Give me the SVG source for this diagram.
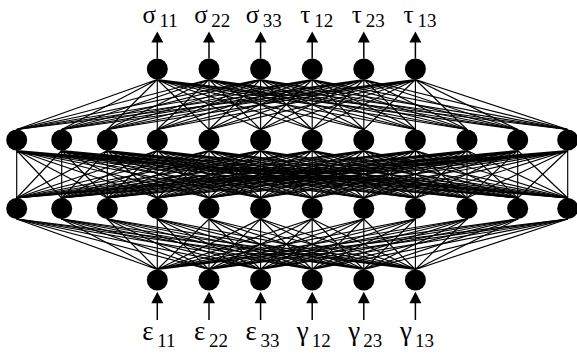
<svg xmlns="http://www.w3.org/2000/svg" width="577" height="354" viewBox="0 0 577 354">
<style>
.c{fill:none;stroke:#000;stroke-width:1.15;stroke-linejoin:round}
.n{fill:#000}
.ar{stroke:#000;stroke-width:1.5}
.lab{font-family:"Liberation Serif","Times New Roman",serif;font-size:25px;fill:#000}
.lb{font-size:27px}
.sub{font-size:19px}
</style>
<g id="connectors">
<path class="c" d="M16.7 129.5L157.3 79.5 61.7 129.5 157.3 79.5 107.3 129.5 157.3 79.5 157.3 129.5 157.3 79.5 209 129.5 157.3 79.5 260.6 129.5 157.3 79.5 312.2 129.5 157.3 79.5 363.8 129.5 157.3 79.5 415.4 129.5 157.3 79.5 467 129.5 157.3 79.5 517.7 129.5 157.3 79.5 567.7 129.5"/>
<path class="c" d="M16.7 129.5L209 79.5 61.7 129.5 209 79.5 107.3 129.5 209 79.5 157.3 129.5 209 79.5 209 129.5 209 79.5 260.6 129.5 209 79.5 312.2 129.5 209 79.5 363.8 129.5 209 79.5 415.4 129.5 209 79.5 467 129.5 209 79.5 517.7 129.5 209 79.5 567.7 129.5"/>
<path class="c" d="M16.7 129.5L260.6 79.5 61.7 129.5 260.6 79.5 107.3 129.5 260.6 79.5 157.3 129.5 260.6 79.5 209 129.5 260.6 79.5 260.6 129.5 260.6 79.5 312.2 129.5 260.6 79.5 363.8 129.5 260.6 79.5 415.4 129.5 260.6 79.5 467 129.5 260.6 79.5 517.7 129.5 260.6 79.5 567.7 129.5"/>
<path class="c" d="M16.7 129.5L312.2 79.5 61.7 129.5 312.2 79.5 107.3 129.5 312.2 79.5 157.3 129.5 312.2 79.5 209 129.5 312.2 79.5 260.6 129.5 312.2 79.5 312.2 129.5 312.2 79.5 363.8 129.5 312.2 79.5 415.4 129.5 312.2 79.5 467 129.5 312.2 79.5 517.7 129.5 312.2 79.5 567.7 129.5"/>
<path class="c" d="M16.7 129.5L363.8 79.5 61.7 129.5 363.8 79.5 107.3 129.5 363.8 79.5 157.3 129.5 363.8 79.5 209 129.5 363.8 79.5 260.6 129.5 363.8 79.5 312.2 129.5 363.8 79.5 363.8 129.5 363.8 79.5 415.4 129.5 363.8 79.5 467 129.5 363.8 79.5 517.7 129.5 363.8 79.5 567.7 129.5"/>
<path class="c" d="M16.7 129.5L415.4 79.5 61.7 129.5 415.4 79.5 107.3 129.5 415.4 79.5 157.3 129.5 415.4 79.5 209 129.5 415.4 79.5 260.6 129.5 415.4 79.5 312.2 129.5 415.4 79.5 363.8 129.5 415.4 79.5 415.4 129.5 415.4 79.5 467 129.5 415.4 79.5 517.7 129.5 415.4 79.5 567.7 129.5"/>
<path class="c" d="M16.7 198L16.7 150.5 61.7 198 16.7 150.5 107.3 198 16.7 150.5 157.3 198 16.7 150.5 209 198 16.7 150.5 260.6 198 16.7 150.5 312.2 198 16.7 150.5 363.8 198 16.7 150.5 415.4 198 16.7 150.5 467 198 16.7 150.5 517.7 198 16.7 150.5 567.7 198"/>
<path class="c" d="M16.7 198L61.7 150.5 61.7 198 61.7 150.5 107.3 198 61.7 150.5 157.3 198 61.7 150.5 209 198 61.7 150.5 260.6 198 61.7 150.5 312.2 198 61.7 150.5 363.8 198 61.7 150.5 415.4 198 61.7 150.5 467 198 61.7 150.5 517.7 198 61.7 150.5 567.7 198"/>
<path class="c" d="M16.7 198L107.3 150.5 61.7 198 107.3 150.5 107.3 198 107.3 150.5 157.3 198 107.3 150.5 209 198 107.3 150.5 260.6 198 107.3 150.5 312.2 198 107.3 150.5 363.8 198 107.3 150.5 415.4 198 107.3 150.5 467 198 107.3 150.5 517.7 198 107.3 150.5 567.7 198"/>
<path class="c" d="M16.7 198L157.3 150.5 61.7 198 157.3 150.5 107.3 198 157.3 150.5 157.3 198 157.3 150.5 209 198 157.3 150.5 260.6 198 157.3 150.5 312.2 198 157.3 150.5 363.8 198 157.3 150.5 415.4 198 157.3 150.5 467 198 157.3 150.5 517.7 198 157.3 150.5 567.7 198"/>
<path class="c" d="M16.7 198L209 150.5 61.7 198 209 150.5 107.3 198 209 150.5 157.3 198 209 150.5 209 198 209 150.5 260.6 198 209 150.5 312.2 198 209 150.5 363.8 198 209 150.5 415.4 198 209 150.5 467 198 209 150.5 517.7 198 209 150.5 567.7 198"/>
<path class="c" d="M16.7 198L260.6 150.5 61.7 198 260.6 150.5 107.3 198 260.6 150.5 157.3 198 260.6 150.5 209 198 260.6 150.5 260.6 198 260.6 150.5 312.2 198 260.6 150.5 363.8 198 260.6 150.5 415.4 198 260.6 150.5 467 198 260.6 150.5 517.7 198 260.6 150.5 567.7 198"/>
<path class="c" d="M16.7 198L312.2 150.5 61.7 198 312.2 150.5 107.3 198 312.2 150.5 157.3 198 312.2 150.5 209 198 312.2 150.5 260.6 198 312.2 150.5 312.2 198 312.2 150.5 363.8 198 312.2 150.5 415.4 198 312.2 150.5 467 198 312.2 150.5 517.7 198 312.2 150.5 567.7 198"/>
<path class="c" d="M16.7 198L363.8 150.5 61.7 198 363.8 150.5 107.3 198 363.8 150.5 157.3 198 363.8 150.5 209 198 363.8 150.5 260.6 198 363.8 150.5 312.2 198 363.8 150.5 363.8 198 363.8 150.5 415.4 198 363.8 150.5 467 198 363.8 150.5 517.7 198 363.8 150.5 567.7 198"/>
<path class="c" d="M16.7 198L415.4 150.5 61.7 198 415.4 150.5 107.3 198 415.4 150.5 157.3 198 415.4 150.5 209 198 415.4 150.5 260.6 198 415.4 150.5 312.2 198 415.4 150.5 363.8 198 415.4 150.5 415.4 198 415.4 150.5 467 198 415.4 150.5 517.7 198 415.4 150.5 567.7 198"/>
<path class="c" d="M16.7 198L467 150.5 61.7 198 467 150.5 107.3 198 467 150.5 157.3 198 467 150.5 209 198 467 150.5 260.6 198 467 150.5 312.2 198 467 150.5 363.8 198 467 150.5 415.4 198 467 150.5 467 198 467 150.5 517.7 198 467 150.5 567.7 198"/>
<path class="c" d="M16.7 198L517.7 150.5 61.7 198 517.7 150.5 107.3 198 517.7 150.5 157.3 198 517.7 150.5 209 198 517.7 150.5 260.6 198 517.7 150.5 312.2 198 517.7 150.5 363.8 198 517.7 150.5 415.4 198 517.7 150.5 467 198 517.7 150.5 517.7 198 517.7 150.5 567.7 198"/>
<path class="c" d="M16.7 198L567.7 150.5 61.7 198 567.7 150.5 107.3 198 567.7 150.5 157.3 198 567.7 150.5 209 198 567.7 150.5 260.6 198 567.7 150.5 312.2 198 567.7 150.5 363.8 198 567.7 150.5 415.4 198 567.7 150.5 467 198 567.7 150.5 517.7 198 567.7 150.5 567.7 198"/>
<path class="c" d="M16.7 219L157.3 269.5 61.7 219 157.3 269.5 107.3 219 157.3 269.5 157.3 219 157.3 269.5 209 219 157.3 269.5 260.6 219 157.3 269.5 312.2 219 157.3 269.5 363.8 219 157.3 269.5 415.4 219 157.3 269.5 467 219 157.3 269.5 517.7 219 157.3 269.5 567.7 219"/>
<path class="c" d="M16.7 219L209 269.5 61.7 219 209 269.5 107.3 219 209 269.5 157.3 219 209 269.5 209 219 209 269.5 260.6 219 209 269.5 312.2 219 209 269.5 363.8 219 209 269.5 415.4 219 209 269.5 467 219 209 269.5 517.7 219 209 269.5 567.7 219"/>
<path class="c" d="M16.7 219L260.6 269.5 61.7 219 260.6 269.5 107.3 219 260.6 269.5 157.3 219 260.6 269.5 209 219 260.6 269.5 260.6 219 260.6 269.5 312.2 219 260.6 269.5 363.8 219 260.6 269.5 415.4 219 260.6 269.5 467 219 260.6 269.5 517.7 219 260.6 269.5 567.7 219"/>
<path class="c" d="M16.7 219L312.2 269.5 61.7 219 312.2 269.5 107.3 219 312.2 269.5 157.3 219 312.2 269.5 209 219 312.2 269.5 260.6 219 312.2 269.5 312.2 219 312.2 269.5 363.8 219 312.2 269.5 415.4 219 312.2 269.5 467 219 312.2 269.5 517.7 219 312.2 269.5 567.7 219"/>
<path class="c" d="M16.7 219L363.8 269.5 61.7 219 363.8 269.5 107.3 219 363.8 269.5 157.3 219 363.8 269.5 209 219 363.8 269.5 260.6 219 363.8 269.5 312.2 219 363.8 269.5 363.8 219 363.8 269.5 415.4 219 363.8 269.5 467 219 363.8 269.5 517.7 219 363.8 269.5 567.7 219"/>
<path class="c" d="M16.7 219L415.4 269.5 61.7 219 415.4 269.5 107.3 219 415.4 269.5 157.3 219 415.4 269.5 209 219 415.4 269.5 260.6 219 415.4 269.5 312.2 219 415.4 269.5 363.8 219 415.4 269.5 415.4 219 415.4 269.5 467 219 415.4 269.5 517.7 219 415.4 269.5 567.7 219"/>
<path class="ar" d="M157.3 58.5V42M209 58.5V42M260.6 58.5V42M312.2 58.5V42M363.8 58.5V42M415.4 58.5V42"/>
<path class="ar" d="M157.3 320V303M209 320V303M260.6 320V303M312.2 320V303M363.8 320V303M415.4 320V303"/>
<path class="n" d="M151.3 42.5L157.3 31.5 163.3 42.5ZM203 42.5L209 31.5 215 42.5ZM254.6 42.5L260.6 31.5 266.6 42.5ZM306.2 42.5L312.2 31.5 318.2 42.5ZM357.8 42.5L363.8 31.5 369.8 42.5ZM409.4 42.5L415.4 31.5 421.4 42.5Z"/>
<path class="n" d="M151.3 303.3L157.3 291.7 163.3 303.3ZM203 303.3L209 291.7 215 303.3ZM254.6 303.3L260.6 291.7 266.6 303.3ZM306.2 303.3L312.2 291.7 318.2 303.3ZM357.8 303.3L363.8 291.7 369.8 303.3ZM409.4 303.3L415.4 291.7 421.4 303.3Z"/>
</g>
<g id="output-layer">
<g id="o1"><circle class="n" cx="157.3" cy="69" r="10.5"/><text class="lab" x="142.5" y="22.5">σ<tspan class="sub" x="159.5" y="27">11</tspan></text></g>
<g id="o2"><circle class="n" cx="209" cy="69" r="10.5"/><text class="lab" x="194.2" y="22.5">σ<tspan class="sub" x="211.2" y="27">22</tspan></text></g>
<g id="o3"><circle class="n" cx="260.6" cy="69" r="10.5"/><text class="lab" x="245.8" y="22.5">σ<tspan class="sub" x="262.8" y="27">33</tspan></text></g>
<g id="o4"><circle class="n" cx="312.2" cy="69" r="10.5"/><text class="lab" x="300.2" y="22.5">τ<tspan class="sub" x="314.2" y="27">12</tspan></text></g>
<g id="o5"><circle class="n" cx="363.8" cy="69" r="10.5"/><text class="lab" x="351.8" y="22.5">τ<tspan class="sub" x="365.8" y="27">23</tspan></text></g>
<g id="o6"><circle class="n" cx="415.4" cy="69" r="10.5"/><text class="lab" x="403.4" y="22.5">τ<tspan class="sub" x="417.4" y="27">13</tspan></text></g>
</g>
<g id="hidden-layer-1">
<circle id="h1-1" class="n" cx="16.7" cy="140" r="10.5"/>
<circle id="h1-2" class="n" cx="61.7" cy="140" r="10.5"/>
<circle id="h1-3" class="n" cx="107.3" cy="140" r="10.5"/>
<circle id="h1-4" class="n" cx="157.3" cy="140" r="10.5"/>
<circle id="h1-5" class="n" cx="209" cy="140" r="10.5"/>
<circle id="h1-6" class="n" cx="260.6" cy="140" r="10.5"/>
<circle id="h1-7" class="n" cx="312.2" cy="140" r="10.5"/>
<circle id="h1-8" class="n" cx="363.8" cy="140" r="10.5"/>
<circle id="h1-9" class="n" cx="415.4" cy="140" r="10.5"/>
<circle id="h1-10" class="n" cx="467" cy="140" r="10.5"/>
<circle id="h1-11" class="n" cx="517.7" cy="140" r="10.5"/>
<circle id="h1-12" class="n" cx="567.7" cy="140" r="10.5"/>
</g>
<g id="hidden-layer-2">
<circle id="h2-1" class="n" cx="16.7" cy="208.5" r="10.5"/>
<circle id="h2-2" class="n" cx="61.7" cy="208.5" r="10.5"/>
<circle id="h2-3" class="n" cx="107.3" cy="208.5" r="10.5"/>
<circle id="h2-4" class="n" cx="157.3" cy="208.5" r="10.5"/>
<circle id="h2-5" class="n" cx="209" cy="208.5" r="10.5"/>
<circle id="h2-6" class="n" cx="260.6" cy="208.5" r="10.5"/>
<circle id="h2-7" class="n" cx="312.2" cy="208.5" r="10.5"/>
<circle id="h2-8" class="n" cx="363.8" cy="208.5" r="10.5"/>
<circle id="h2-9" class="n" cx="415.4" cy="208.5" r="10.5"/>
<circle id="h2-10" class="n" cx="467" cy="208.5" r="10.5"/>
<circle id="h2-11" class="n" cx="517.7" cy="208.5" r="10.5"/>
<circle id="h2-12" class="n" cx="567.7" cy="208.5" r="10.5"/>
</g>
<g id="input-layer">
<g id="i1"><circle class="n" cx="157.3" cy="280" r="10.5"/><text class="lab lb" x="142.3" y="340">ε<tspan class="sub" x="157.3" y="347">11</tspan></text></g>
<g id="i2"><circle class="n" cx="209" cy="280" r="10.5"/><text class="lab lb" x="194" y="340">ε<tspan class="sub" x="209" y="347">22</tspan></text></g>
<g id="i3"><circle class="n" cx="260.6" cy="280" r="10.5"/><text class="lab lb" x="245.6" y="340">ε<tspan class="sub" x="260.6" y="347">33</tspan></text></g>
<g id="i4"><circle class="n" cx="312.2" cy="280" r="10.5"/><text class="lab lb" x="296.7" y="340">γ<tspan class="sub" x="311.7" y="347">12</tspan></text></g>
<g id="i5"><circle class="n" cx="363.8" cy="280" r="10.5"/><text class="lab lb" x="348.3" y="340">γ<tspan class="sub" x="363.3" y="347">23</tspan></text></g>
<g id="i6"><circle class="n" cx="415.4" cy="280" r="10.5"/><text class="lab lb" x="399.9" y="340">γ<tspan class="sub" x="414.9" y="347">13</tspan></text></g>
</g>
</svg>
